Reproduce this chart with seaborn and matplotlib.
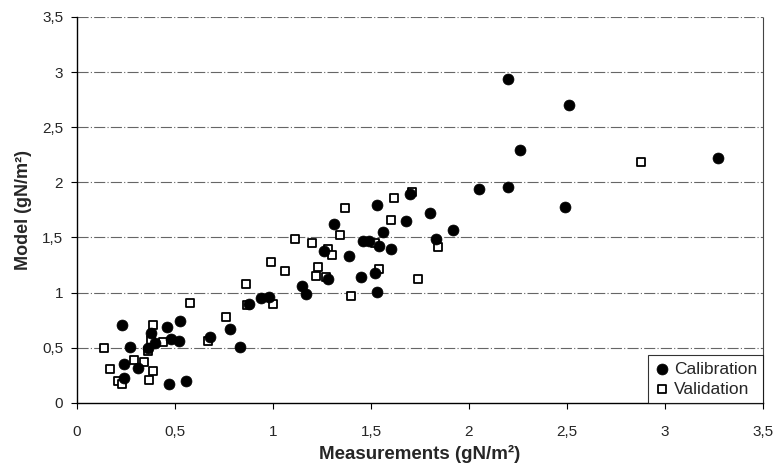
import matplotlib
matplotlib.use("Agg")
import matplotlib.pyplot as plt
import seaborn as sns
import pandas as pd
from matplotlib.ticker import FuncFormatter, MultipleLocator

cal_x = [0.23, 0.46, 0.525, 0.38, 0.48, 0.52, 0.40, 0.68, 0.27, 0.36, 0.24, 0.31, 0.24, 0.47, 0.555,
         0.78, 0.83, 0.88, 0.94, 0.98, 1.15, 1.17, 1.28, 1.26, 1.31, 1.39, 1.45, 1.52, 1.53, 1.46,
         1.49, 1.54, 1.60, 1.56, 1.53, 1.68, 1.70, 1.80, 1.83, 1.92, 2.05, 2.20, 2.20, 2.26, 2.49,
         2.51, 3.27]
cal_y = [0.71, 0.69, 0.74, 0.63, 0.58, 0.56, 0.54, 0.60, 0.51, 0.50, 0.35, 0.32, 0.23, 0.17, 0.195,
         0.67, 0.51, 0.90, 0.95, 0.96, 1.06, 0.99, 1.12, 1.38, 1.62, 1.33, 1.14, 1.18, 1.01, 1.47,
         1.47, 1.42, 1.40, 1.55, 1.79, 1.65, 1.89, 1.72, 1.49, 1.57, 1.94, 1.96, 2.94, 2.29, 1.78,
         2.70, 2.22]

val_x = [0.14, 0.17, 0.21, 0.23, 0.29, 0.34, 0.36, 0.37, 0.39, 0.38, 0.39, 0.44, 0.575, 0.67, 0.76,
         0.86, 0.87, 0.99, 1.00, 1.06, 1.11, 1.20, 1.22, 1.23, 1.27, 1.28, 1.30, 1.34, 1.37, 1.40,
         1.52, 1.54, 1.60, 1.62, 1.71, 1.74, 1.84, 2.88]
val_y = [0.50, 0.31, 0.20, 0.175, 0.39, 0.37, 0.47, 0.21, 0.29, 0.57, 0.71, 0.55, 0.91, 0.56, 0.78,
         1.08, 0.89, 1.28, 0.90, 1.20, 1.49, 1.45, 1.15, 1.23, 1.14, 1.40, 1.34, 1.52, 1.77, 0.97,
         1.45, 1.21, 1.66, 1.86, 1.91, 1.12, 1.41, 2.18]

x_label = "Measurements (gN/m²)"
y_label = "Model (gN/m²)"

sns.set_style("white")
plt.rcParams['font.family'] = ['Liberation Sans', 'DejaVu Sans']

cal = pd.DataFrame({"x": cal_x, "y": cal_y})
val = pd.DataFrame({"x": val_x, "y": val_y})

fig = plt.figure(figsize=(7.76, 4.68), dpi=100)
ax = fig.add_axes([0.0992, 0.139, 0.884, 0.825])

for yv in [0.5, 1, 1.5, 2, 2.5, 3, 3.5]:
    ax.axhline(yv, color="#666666", lw=0.8, ls=(0, (10, 2, 1, 2)), zorder=0)

sns.scatterplot(data=val, x="x", y="y", ax=ax, marker="s", s=40, facecolor="white",
                edgecolor="black", linewidth=1.3, label="Validation", zorder=3)
sns.scatterplot(data=cal, x="x", y="y", ax=ax, marker="o", s=62, color="black",
                edgecolor="black", linewidth=0.5, label="Calibration", zorder=4)

ax.set_xlim(0, 3.5)
ax.set_ylim(0, 3.5)
ax.xaxis.set_major_locator(MultipleLocator(0.5))
ax.yaxis.set_major_locator(MultipleLocator(0.5))
fmt = FuncFormatter(lambda v, p: ("%g" % v).replace(".", ","))
ax.xaxis.set_major_formatter(fmt)
ax.yaxis.set_major_formatter(fmt)
ax.tick_params(axis="both", which="major", direction="out", length=4, width=0.8,
               labelsize=11, color="black", bottom=True, left=True)
ax.tick_params(axis="x", pad=12)
ax.tick_params(axis="y", pad=6)

for side in ["left", "bottom"]:
    ax.spines[side].set_color("black")
    ax.spines[side].set_linewidth(1.0)
ax.spines["top"].set_visible(False)
ax.spines["right"].set_color("#444444")
ax.spines["right"].set_linewidth(0.8)
ax.spines["right"].set_linestyle((0, (1, 1)))

ax.set_xlabel(x_label, fontsize=13.5, fontweight="bold", labelpad=4)
ax.set_ylabel(y_label, fontsize=13, fontweight="bold", labelpad=7)

handles, labels = ax.get_legend_handles_labels()
order = [labels.index("Calibration"), labels.index("Validation")]
leg = ax.legend([handles[i] for i in order], [labels[i] for i in order], loc="lower right",
                frameon=True, fancybox=False, edgecolor="black", fontsize=12.5,
                handletextpad=0.15, borderpad=0.35, labelspacing=0.3, handlelength=1.0,
                borderaxespad=0.0)
leg.get_frame().set_linewidth(0.8)

fig.savefig("out.png", dpi=100, facecolor="white")
